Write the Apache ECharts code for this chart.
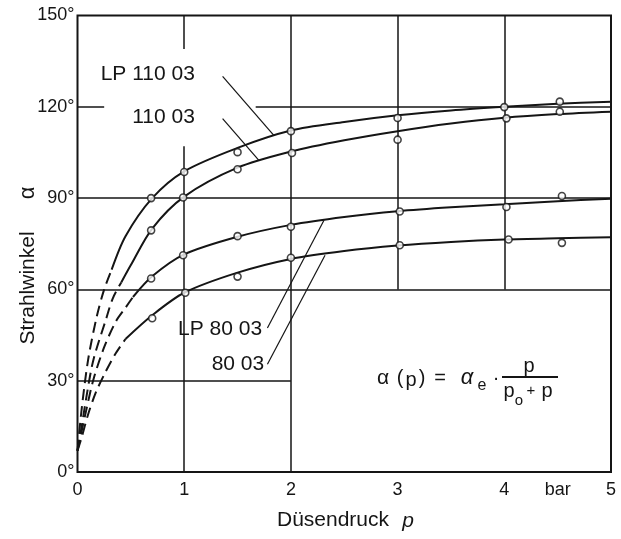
<!DOCTYPE html>
<html>
<head>
<meta charset="utf-8">
<script src="https://cdn.jsdelivr.net/npm/echarts@6/dist/echarts.min.js"></script>
<style>
  html, body { margin: 0; padding: 0; background: #fff; }
  #chart { width: 621px; height: 539px; }
</style>
</head>
<body>
<div id="chart"></div>
<script>
// axis ticks
const xTicks = [0, 1, 2, 3, 4, 5];
const xUnitLabel = 'bar';          // sits at p = 4.5
const yTicks = [0, 30, 60, 90, 120, 150];

const pointsLP110 = [[0.69, 90], [1, 98.6], [1.5, 105.1], [2, 112], [3, 116.3], [4, 119.9], [4.52, 121.7]];
const points110   = [[0.69, 79.4], [0.99, 90.2], [1.5, 99.5], [2.01, 104.8], [3, 109.2], [4.02, 116.2], [4.52, 118.4]];
const pointsLP80  = [[0.69, 63.6], [0.99, 71.2], [1.5, 77.5], [2, 80.6], [3.02, 85.6], [4.02, 87.1], [4.54, 90.7]];
const points80    = [[0.7, 50.5], [1.01, 58.9], [1.5, 64.2], [2, 70.4], [3.02, 74.5], [4.04, 76.4], [4.54, 75.3]];

// fitted curves, solid part
const curveLP110 = [[0.32, 66.5], [0.45, 77.5], [0.7, 90], [1, 98.8], [1.5, 106.5], [2, 112.2], [2.5, 115], [3, 117.2], [3.5, 118.8], [4, 120], [4.5, 121], [5, 121.7]];
const curve110   = [[0.41, 62.3], [0.5, 68], [0.7, 80], [1, 90.5], [1.5, 100], [2, 105.3], [2.5, 109], [3, 112], [3.5, 114.5], [4, 116.4], [4.5, 117.6], [5, 118.4]];
const curveLP80  = [[0.52, 57.5], [0.7, 64.3], [1, 71.5], [1.5, 77.3], [2, 81.2], [2.5, 83.8], [3, 85.7], [3.5, 87], [4, 88], [4.5, 89], [5, 89.8]];
const curve80    = [[0.45, 43.7], [0.7, 51.5], [1, 58.9], [1.5, 65.5], [2, 70], [2.5, 72.6], [3, 74.4], [3.5, 75.6], [4, 76.4], [4.5, 76.8], [5, 77.1]];

// extrapolated (dashed) part towards p = 0
const dashLP110 = [[0, 7], [0.04, 21], [0.1, 37], [0.18, 51], [0.25, 60], [0.32, 66.5]];
const dash110   = [[0, 7], [0.03, 13], [0.09, 26], [0.15, 37], [0.27, 50.5], [0.33, 57], [0.41, 62.3]];
const dashLP80  = [[0, 7], [0.03, 12], [0.08, 20], [0.15, 30.5], [0.25, 41], [0.36, 49.5], [0.45, 54], [0.52, 57.5]];
const dash80    = [[0, 7], [0.04, 11.5], [0.1, 19], [0.17, 26], [0.25, 32], [0.35, 38.5], [0.45, 43.7]];

// the drawing's partial grid lines, as [from, to] in data units
const gridSegments = [
  [[0, 120], [0.25, 120]], [[1.67, 120], [5, 120]],
  [[0, 90], [5, 90]],
  [[0, 60], [5, 60]],
  [[0, 30], [2, 30]],
  [[1, 0], [1, 107]], [[1, 139], [1, 150]],
  [[2, 0], [2, 150]],
  [[3, 60], [3, 150]],
  [[4, 60], [4, 150]]
];

// curve labels and their leader lines
const curveNames = ['LP 110 03', '110 03', 'LP 80 03', '80 03'];
const labelAnchors = [[1.1, 130.6], [1.1, 116.7], [1.73, 46.9], [1.75, 35.3]];
const leaders = [
  [[1.36, 130], [1.84, 110.6]],
  [[1.36, 116.1], [1.70, 102.4]],
  [[1.78, 47.3], [2.31, 82.7]],
  [[1.78, 35.4], [2.32, 71.2]]
];

const INK = '#151515';
const FONT = 'Liberation Sans';

function curve(name, data, dashed) {
  return {
    name: name,
    type: 'line',
    data: data,
    smooth: 0.3,
    symbol: 'none',
    silent: true,
    lineStyle: { color: INK, width: 2, type: dashed ? [11, 6] : 'solid' },
    z: 3
  };
}

function dots(name, data) {
  return {
    name: name,
    type: 'scatter',
    data: data,
    symbol: 'circle',
    symbolSize: 7,
    itemStyle: { color: '#fff', borderColor: INK, borderWidth: 1.6 },
    z: 5
  };
}

function segs(list) {
  return list.map(s => [{ coord: s[0] }, { coord: s[1] }]);
}

const chart = echarts.init(document.getElementById('chart'));

chart.setOption({
  animation: false,
  backgroundColor: '#fff',
  textStyle: { fontFamily: FONT, color: INK },
  grid: {
    left: 77.5, right: 10, top: 15.5, bottom: 67,
    show: true, borderColor: INK, borderWidth: 2, backgroundColor: 'transparent'
  },
  xAxis: {
    type: 'value',
    min: 0, max: 5, interval: 0.5,
    axisLine: { show: false },
    axisTick: { show: false },
    splitLine: { show: false },
    axisLabel: {
      color: INK, fontSize: 18, fontFamily: FONT, margin: 9,
      formatter: v => {
        if (xTicks.indexOf(v) >= 0) return String(v);
        if (Math.abs(v - 4.5) < 1e-6) return xUnitLabel;
        return '';
      }
    }
  },
  yAxis: {
    type: 'value',
    min: 0, max: 150, interval: 30,
    axisLine: { show: false },
    axisTick: { show: false },
    splitLine: { show: false },
    axisLabel: {
      color: INK, fontSize: 18, fontFamily: FONT, margin: 3,
      formatter: v => yTicks.indexOf(v) >= 0 ? v + '°' : ''
    }
  },
  series: [
    {
      name: 'grid',
      type: 'line',
      data: [],
      silent: true,
      markLine: {
        silent: true,
        symbol: ['none', 'none'],
        label: { show: false },
        lineStyle: { color: INK, width: 1.5, type: 'solid' },
        data: segs(gridSegments).concat(segs(leaders).map(s => {
          s[0].lineStyle = { width: 1.2 };
          return s;
        }))
      }
    },
    curve('LP 110 03', curveLP110, false),
    curve('110 03', curve110, false),
    curve('LP 80 03', curveLP80, false),
    curve('80 03', curve80, false),
    curve('LP 110 03 ext', dashLP110, true),
    curve('110 03 ext', dash110, true),
    curve('LP 80 03 ext', dashLP80, true),
    curve('80 03 ext', dash80, true),
    dots('LP 110 03 pts', pointsLP110),
    dots('110 03 pts', points110),
    dots('LP 80 03 pts', pointsLP80),
    dots('80 03 pts', points80)
  ]
});

// texts placed on the drawing
function txt(x, y, text, size, extra) {
  return {
    type: 'text', x: x, y: y, silent: true,
    style: Object.assign({
      text: text, fill: INK, fontFamily: FONT, fontSize: size,
      align: 'center', verticalAlign: 'middle',
      textAlign: 'center', textVerticalAlign: 'middle'
    }, extra || {})
  };
}

const graphics = [];
curveNames.forEach((name, i) => {
  const pt = chart.convertToPixel({ gridIndex: 0 }, labelAnchors[i]);
  graphics.push(txt(pt[0], pt[1], name, 21, { align: 'right', textAlign: 'right' }));
});

// axis titles
graphics.push(Object.assign(txt(28, 288, 'Strahlwinkel', 21), { rotation: Math.PI / 2 }));
graphics.push(Object.assign(txt(28, 193, 'α', 22), { rotation: Math.PI / 2 }));
graphics.push(txt(333, 520, 'Düsendruck', 21));
graphics.push(txt(408, 521, 'p', 21, { fontStyle: 'italic' }));

// formula  alpha(p) = alpha_e * p / (p_o + p)
graphics.push(txt(383, 378, 'α', 21));
graphics.push(txt(400, 378, '(', 20));
graphics.push(txt(411, 380, 'p', 20));
graphics.push(txt(422, 378, ')', 20));
graphics.push(txt(440, 378, '=', 20));
graphics.push(txt(467, 378, 'α', 22, { fontStyle: 'italic' }));
graphics.push(txt(482, 386, 'e', 16));
graphics.push(txt(496, 378, '·', 20));
graphics.push({
  type: 'line', silent: true,
  shape: { x1: 502, y1: 377, x2: 558, y2: 377 },
  style: { stroke: INK, lineWidth: 1.8 }
});
graphics.push(txt(529, 366, 'p', 20));
graphics.push(txt(509, 391, 'p', 20));
graphics.push(txt(519, 401, 'o', 15));
graphics.push(txt(531, 391, '+', 15));
graphics.push(txt(547, 391, 'p', 20));

chart.setOption({ graphic: graphics });
</script>
</body>
</html>
